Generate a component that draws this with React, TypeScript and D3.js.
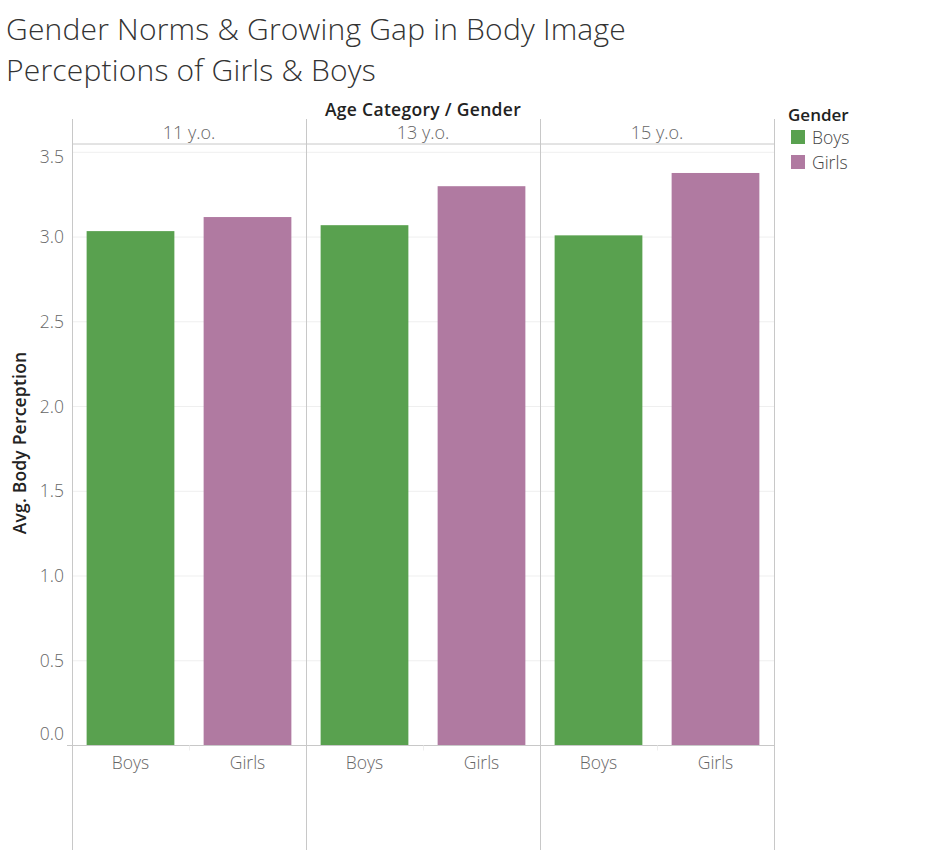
import React from "react";
import * as d3 from "d3";

const ages = ["11 y.o.", "13 y.o.", "15 y.o."];
const genders = ["Boys", "Girls"];
const boysValues = [3.035, 3.07, 3.01];
const girlsValues = [3.118, 3.3, 3.378];
const yTicks = [0, 0.5, 1, 1.5, 2, 2.5, 3, 3.5];
const colors = ["#59A14F", "#B07AA1"];

export default function App() {
  const W = 926, H = 850;
  const left = 72, right = 774, top = 144, zeroY = 745.5;
  const fx = d3.scaleBand().domain(ages).range([left, right]).padding(0);
  const ix = d3.scaleBand().domain(genders).range([0, fx.bandwidth()]).paddingInner(0.25).paddingOuter(0.125);
  const y = d3.scaleLinear().domain([0, 3.549]).range([zeroY, top]);
  const series = [boysValues, girlsValues];
  const font = "'Open Sans', sans-serif";
  const tickY = (t: number) => (t === 0 ? y(t) - 6 : t === 3.5 ? y(t) + 11 : y(t) + 6);
  return (
    <svg width={W} height={H} style={{ position: "absolute", left: 0, top: 0 }} fontFamily={font}>
      <rect width={W} height={H} fill="#fff" />
      <text x={6} y={40} fontSize={30} fill="#333" fontWeight={300} letterSpacing={0.2}>Gender Norms &amp; Growing Gap in Body Image</text>
      <text x={6} y={81} fontSize={30} fill="#333" fontWeight={300} letterSpacing={0.2}>Perceptions of Girls &amp; Boys</text>
      <text x={423} y={116} fontSize={17.5} fontWeight={600} fill="#222" textAnchor="middle" letterSpacing={0.3}>Age Category / Gender</text>
      {yTicks.map((t) => (
        <line key={t} x1={left} x2={right} y1={y(t)} y2={y(t)} stroke="#efefef" strokeWidth={1} />
      ))}
      {ages.map((a, i) =>
        genders.map((g, j) => {
          const v = series[j][i];
          const x0 = (fx(a) as number) + (ix(g) as number);
          return <rect key={a + g} x={x0} y={y(v)} width={ix.bandwidth()} height={zeroY - y(v)} fill={colors[j]} />;
        })
      )}
      <line x1={left} x2={right} y1={top} y2={top} stroke="#c8c8c8" />
      {[...ages.map((a) => fx(a) as number), right].map((x, i) => (
        <line key={i} x1={x + 0.5} x2={x + 0.5} y1={119} y2={H} stroke="#c8c8c8" />
      ))}
      {ages.map((a) => (
        <text key={a} x={(fx(a) as number) + fx.bandwidth() / 2} y={139} fontSize={18} fill="#666" textAnchor="middle" fontWeight={300}>{a}</text>
      ))}
      <line x1={67} x2={right} y1={zeroY} y2={zeroY} stroke="#c8c8c8" />
      {ages.map((a) => (
        <line key={a} x1={(fx(a) as number) + fx.bandwidth() / 2 + 0.5} x2={(fx(a) as number) + fx.bandwidth() / 2 + 0.5} y1={zeroY} y2={zeroY + 5} stroke="#eee" />
      ))}
      {ages.map((a) =>
        genders.map((g) => (
          <text key={a + g} x={(fx(a) as number) + (ix(g) as number) + ix.bandwidth() / 2} y={769} fontSize={17.5} fill="#666" textAnchor="middle" fontWeight={300}>{g}</text>
        ))
      )}
      {yTicks.map((t) => (
        <text key={t} x={64} y={tickY(t)} fontSize={17.5} fill="#666" textAnchor="end" fontWeight={300}>{d3.format(".1f")(t)}</text>
      ))}
      <text transform={`translate(26,${443}) rotate(-90)`} fontSize={17.5} fontWeight={600} fill="#222" textAnchor="middle" letterSpacing={0.2}>Avg. Body Perception</text>
      <text x={788} y={121} fontSize={17} fontWeight={600} fill="#222">Gender</text>
      {genders.map((g, j) => (
        <g key={g}>
          <rect x={791} y={130 + j * 25} width={14} height={14} fill={colors[j]} />
          <text x={812} y={144 + j * 25} fontSize={17.5} fill="#444" fontWeight={300}>{g}</text>
        </g>
      ))}
    </svg>
  );
}
